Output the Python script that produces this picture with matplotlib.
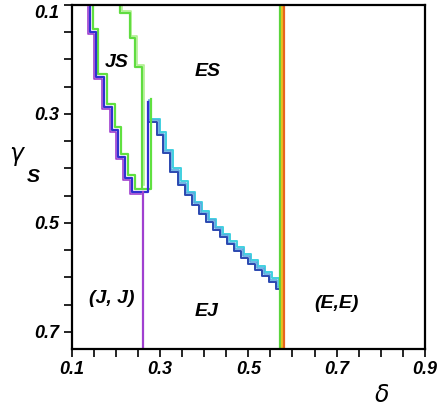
import numpy as np
import matplotlib
matplotlib.use("Agg")
import matplotlib.pyplot as plt
import matplotlib.transforms as mtransforms
from matplotlib.ticker import MultipleLocator

plt.rcParams['font.family'] = ['Liberation Sans', 'DejaVu Sans']

# left boundary of JS (staircase, steps-pre)
js_left_d = [0.141, 0.154, 0.173, 0.191, 0.204, 0.220, 0.236, 0.261, 0.272, 0.272]
js_left_g = [0.100, 0.150, 0.232, 0.287, 0.329, 0.379, 0.417, 0.443, 0.443, 0.278]
# right boundary of JS
js_right_d = [0.209, 0.231, 0.243, 0.259, 0.259]
js_right_g = [0.100, 0.115, 0.161, 0.214, 0.434]
# purple J line below JS
jj_d = [0.261, 0.261]
jj_g = [0.443, 0.731]
# EJ / ES boundary
ej_d = [0.272, 0.293, 0.306, 0.322, 0.340, 0.356, 0.372, 0.388, 0.404, 0.420,
        0.435, 0.451, 0.467, 0.483, 0.499, 0.515, 0.531, 0.546, 0.562, 0.574, 0.574]
ej_g = [0.278, 0.315, 0.339, 0.372, 0.406, 0.430, 0.449, 0.467, 0.484, 0.498,
        0.513, 0.526, 0.539, 0.551, 0.564, 0.575, 0.586, 0.597, 0.608, 0.621, 0.731]
# E boundary (vertical band)
ee_d = [0.572, 0.576, 0.580]
ee_colors = ['#5ad43c', '#e8c020', '#e8641e']

x_ticks = [0.1, 0.3, 0.5, 0.7, 0.9]
y_ticks = [0.1, 0.3, 0.5, 0.7]

region_labels = ['JS', 'ES', '(J, J)', 'EJ', '(E,E)']
region_d = [0.202, 0.408, 0.191, 0.406, 0.700]
region_g = [0.206, 0.223, 0.638, 0.663, 0.647]

fig = plt.figure(figsize=(4.38, 4.08), dpi=100)
ax = fig.add_axes([0.164, 0.145, 0.806, 0.843])


def shifted(dx, dy):
    return ax.transData + mtransforms.ScaledTranslation(dx / 72, dy / 72, fig.dpi_scale_trans)


# EJ boundary: cyan outer, light blue, dark blue
ax.plot(ej_d, ej_g, drawstyle='steps-pre', color='#40d0e0', lw=1.4, transform=shifted(2.4, 2.4))
ax.plot(ej_d, ej_g, drawstyle='steps-pre', color='#58a8e0', lw=1.2, transform=shifted(1.2, 1.2))
ax.plot(ej_d, ej_g, drawstyle='steps-pre', color='#2a48b0', lw=1.4)

# JS region
ax.plot(js_left_d, js_left_g, drawstyle='steps-pre', color='#60e040', lw=1.6, transform=shifted(2.0, 2.0))
ax.plot(js_left_d[:8], js_left_g[:8], drawstyle='steps-pre', color='#a040d0', lw=1.2, transform=shifted(-1.5, -1.5))
ax.plot(js_left_d, js_left_g, drawstyle='steps-pre', color='#3030d0', lw=1.6)
ax.plot(js_right_d, js_right_g, drawstyle='steps-pre', color='#b0f090', lw=1.2, transform=shifted(1.2, 1.2))
ax.plot(js_right_d, js_right_g, drawstyle='steps-pre', color='#60dc40', lw=1.6)
ax.plot(jj_d, jj_g, color='#a040d0', lw=1.6)

# vertical E band
for d, c in zip(ee_d, ee_colors):
    ax.plot([d, d], [0.1, 0.731], color=c, lw=1.6)

for t, d, g in zip(region_labels, region_d, region_g):
    ax.text(d, g, t, ha='center', va='center', fontsize=14,
            fontweight='bold', fontstyle='italic')

ax.set_xlim(0.1, 0.9)
ax.set_ylim(0.731, 0.1)
ax.set_xticks(x_ticks)
ax.set_yticks(y_ticks)
ax.xaxis.set_minor_locator(MultipleLocator(0.05))
ax.yaxis.set_minor_locator(MultipleLocator(0.05))
ax.set_xticklabels([f'{v:.1f}' for v in x_ticks])
ax.set_yticklabels([f'{v:.1f}' for v in y_ticks])
for lab in ax.get_xticklabels() + ax.get_yticklabels():
    lab.set_fontweight('bold')
    lab.set_fontstyle('italic')
    lab.set_fontsize(13)
ax.get_yticklabels()[0].set_verticalalignment('top')
ax.tick_params(which='both', direction='out', length=6, width=1.2, pad=3)
for s in ax.spines.values():
    s.set_linewidth(1.6)

fig.text(382 / 438, 1 - 396 / 408, r'$\delta$', fontsize=17, ha='center', va='center')
fig.text(18 / 438, 1 - 157 / 408, r'$\gamma$', fontsize=17, ha='center', va='center')
fig.text(33 / 438, 1 - 178 / 408, 'S', fontsize=14, fontweight='bold', fontstyle='italic',
         ha='center', va='center')

fig.savefig('out.png', dpi=100)
